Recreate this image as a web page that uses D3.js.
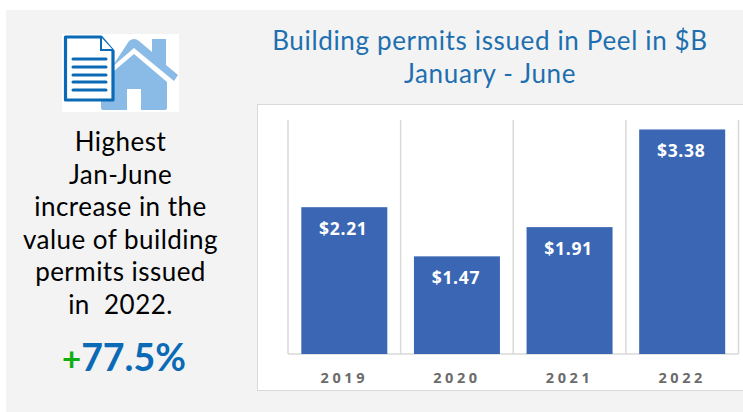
<!DOCTYPE html>
<html><head><meta charset="utf-8">
<script src="https://cdn.jsdelivr.net/npm/d3@7/dist/d3.min.js"></script>
<style>html,body{margin:0;padding:0;background:#fff}svg{display:block}</style>
</head><body><svg id="c" width="743" height="412"></svg>
<script>
const years = ["2019","2020","2021","2022"];
const permits = [2.21,1.47,1.91,3.38];
const titleLines = ["Building permits issued in Peel in $B","January - June"];
const noteLines = ["Highest","Jan-June","increase in the","value of building","permits issued","in  2022."];
const yTicks = [0,3.5];

const svg = d3.select("#c");
svg.append("rect").attr("x",6).attr("y",10).attr("width",737).attr("height",402).attr("fill","#f3f3f3");
svg.append("rect").attr("x",257.5).attr("y",104.5).attr("width",490).attr("height",286).attr("fill","#fff").attr("stroke","#d9d9d9");

const x = d3.scaleBand().domain(years).range([288,738.5]).paddingInner(0).paddingOuter(0);
const y = d3.scaleLinear().domain(yTicks).range([354,121.5]);

const grid = x.domain().map(d=>x(d)).concat([x.range()[1]]);
svg.selectAll(".g").data(grid).join("line").attr("class","g")
  .attr("x1",d=>d).attr("x2",d=>d).attr("y1",120).attr("y2",354)
  .attr("stroke","#d9d9d9").attr("stroke-width",1.5);
svg.append("line").attr("x1",288).attr("x2",738.5).attr("y1",354).attr("y2",354).attr("stroke","#d9d9d9").attr("stroke-width",1.5);

const bw = 86;
const data = years.map((k,i)=>({k,v:permits[i]}));
svg.selectAll(".b").data(data).join("rect").attr("class","b")
  .attr("x",d=>x(d.k)+x.bandwidth()/2-bw/2).attr("width",bw)
  .attr("y",d=>y(d.v)).attr("height",d=>y(0)-y(d.v)).attr("fill","#3a66b4");
svg.selectAll(".v").data(data).join("text").attr("class","v")
  .attr("x",d=>x(d.k)+x.bandwidth()/2-1).attr("y",d=>y(d.v)+28)
  .attr("text-anchor","middle").attr("fill","#fff")
  .style("font","700 17.5px 'Open Sans'").style("letter-spacing","0.7px").text(d=>"$"+d.v.toFixed(2));

const axis = d3.axisBottom(x).tickSize(0).tickPadding(0);
const ag = svg.append("g").attr("transform","translate(0,354)").call(axis);
ag.select(".domain").remove();
ag.selectAll("text").attr("y",19).attr("dy","0.71em").attr("fill","#6b6b6b")
  .style("font","700 14.5px 'Open Sans'").style("letter-spacing","3.6px");

svg.selectAll(".t").data(titleLines).join("text").attr("class","t")
  .attr("x",490).attr("y",(d,i)=>50+i*33).attr("text-anchor","middle").attr("fill","#1d6fb0")
  .style("font","400 26px Lato").style("letter-spacing","0.65px").text(d=>d);
svg.selectAll(".n").data(noteLines).join("text").attr("class","n")
  .attr("x",120.5).attr("y",(d,i)=>151+i*32.6).attr("text-anchor","middle").attr("fill","#000")
  .style("font","400 26px Lato").style("letter-spacing","0.47px").style("white-space","pre").text(d=>d);

const pct = svg.append("text").attr("x",124).attr("y",371).attr("text-anchor","middle")
  .style("font","700 37.5px Lato");
pct.append("tspan").attr("fill","#0fae0f").style("font-size","33px").text("+");
pct.append("tspan").attr("fill","#0a6ab5").text("77.5%");

// icon
const ic = svg.append("g");
ic.append("rect").attr("x",62).attr("y",34).attr("width",117).attr("height",78).attr("fill","#fff");
ic.append("path").attr("fill","#8abbe6").attr("d","M101 111 V82 L134 54 L167 82 V108 Q167 110 164 110 H141 V89 H127 V110 H104 Q101 110 101 108 Z");
ic.append("path").attr("fill","#8abbe6").attr("d","M110 70 L129 41 Q134 37 139 41 L152 52 V39 H166 V65 L178 75 L174 81 L134 48 L112 67 Z");
ic.append("path").attr("fill","#fff").attr("stroke","#0a6ab5").attr("stroke-width",3.2).attr("stroke-linejoin","round")
  .attr("d","M65.5 37 H101 L113 51 V100 H65.5 Z");
ic.append("path").attr("fill","#fff").attr("stroke","#0a6ab5").attr("stroke-width",2).attr("d","M101 37 V50 H113");
ic.selectAll(".l").data([59,67,75,82,90]).join("line").attr("class","l")
  .attr("x1",73).attr("x2",106).attr("y1",d=>d).attr("y2",d=>d)
  .attr("stroke","#0a6ab5").attr("stroke-width",3).attr("stroke-linecap","round");
</script></body></html>
